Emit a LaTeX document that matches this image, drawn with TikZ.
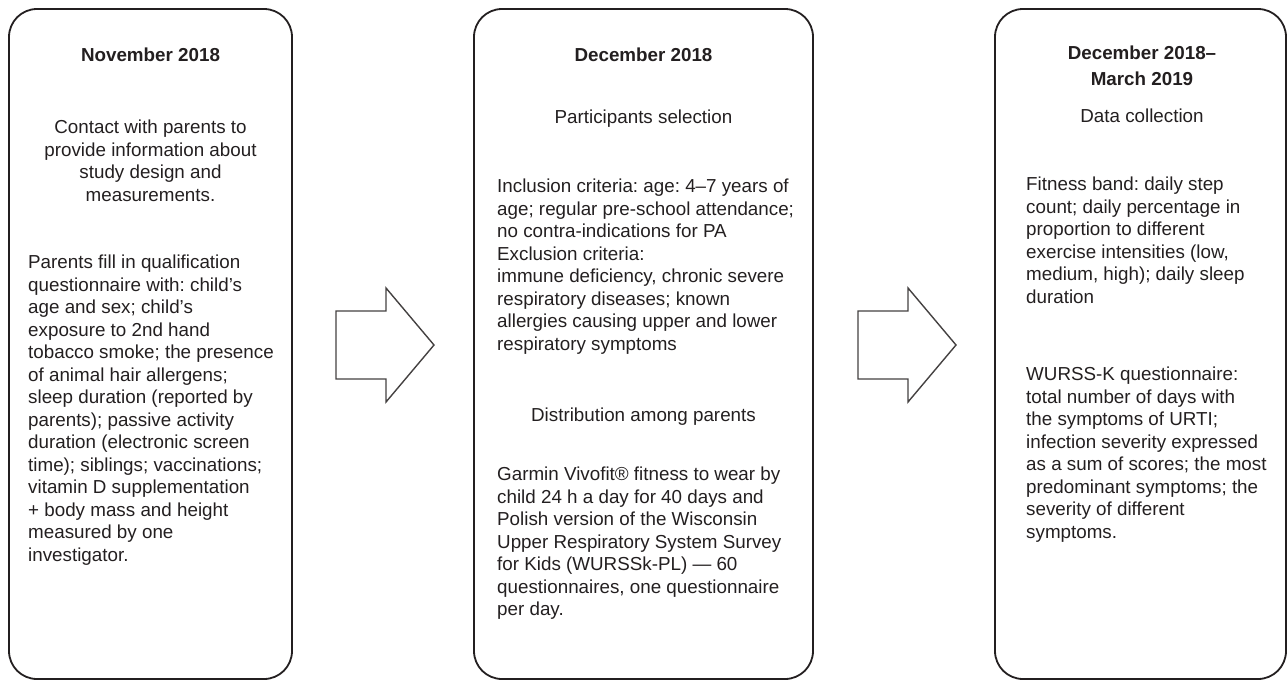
\documentclass[tikz,border=0pt]{standalone}
\usepackage{fontspec}
\setmainfont{Liberation Sans}
\usetikzlibrary{positioning}
\frenchspacing

\definecolor{ink}{HTML}{231F20}
\newcommand{\txtsize}{\fontsize{18.8pt}{22.5pt}\selectfont}

\tikzset{
  stage/.style={draw=ink, line width=1.8pt, rounded corners=28pt,
    minimum width=#1, minimum height=670pt, inner sep=0pt},
  head/.style={font=\txtsize\bfseries, text=ink, inner sep=0pt, align=center},
  ctxt/.style={font=\txtsize, text=ink, inner sep=0pt, align=center},
  ltxt/.style={font=\txtsize, text=ink, inner sep=0pt, align=left, anchor=north west},
  blockarrow/.style={draw=ink!85, line width=1.4pt, line join=miter}
}

\begin{document}
\begin{tikzpicture}[x=1pt, y=-1pt]
        \useasboundingbox (0,0) rectangle (1288,680);

        % three stages
        \node[stage=283pt] (nov) at (150.5,344) {};
        \node[stage=339pt] (dec) at (643.5,344) {};
        \node[stage=291pt] (mar) at (1140.5,344) {};

        % November 2018
        \node[head] (novT) at (150.5,55) {November 2018};
        \node[ctxt, anchor=north] (novC) at (150.5,120) {Contact with parents to\\provide information about\\study design and\\measurements.};
        \node[ltxt] (novQ) at (28,255) {Parents fill in qualification\\questionnaire with: child’s\\age and sex; child’s\\exposure to 2nd hand\\tobacco smoke; the presence\\of animal hair allergens;\\sleep duration (reported by\\parents); passive activity\\duration (electronic screen\\time); siblings; vaccinations;\\vitamin D supplementation\\+ body mass and height\\measured by one\\investigator.};

        % December 2018
        \node[head] (decT) at (643.5,55) {December 2018};
        \node[ctxt] (decS) at (643.5,119) {Participants selection};
        \node[ltxt] (decI) at (497,179) {Inclusion criteria: age: 4–7 years of\\age; regular pre-school attendance;\\no contra-indications for PA\\Exclusion criteria:\\immune deficiency, chronic severe\\respiratory diseases; known\\allergies causing upper and lower\\respiratory symptoms};
        \node[ctxt] (decD) at (643.5,417) {Distribution among parents};
        \node[ltxt] (decG) at (497,467) {Garmin Vivofit® fitness to wear by\\child 24 h a day for 40 days and\\Polish version of the Wisconsin\\Upper Respiratory System Survey\\for Kids (WURSSk-PL) — 60\\questionnaires, one questionnaire\\per day.};

        % December 2018 -- March 2019
        \node[head, anchor=north] (marT) at (1142,46) {December 2018–\\[3.5pt]March 2019};
        \node[ctxt] (marD) at (1142,116) {Data collection};
        \node[ltxt] (marF) at (1026,177) {Fitness band: daily step\\count; daily percentage in\\proportion to different\\exercise intensities (low,\\medium, high); daily sleep\\duration};
        \node[ltxt] (marW) at (1026,367) {WURSS-K questionnaire:\\total number of days with\\the symptoms of URTI;\\infection severity expressed\\as a sum of scores; the most\\predominant symptoms; the\\severity of different\\symptoms.};

        % block arrows between stages
        \coordinate (a1) at (336,345);
        \coordinate (a2) at (858,345);
        \foreach \a in {a1,a2}
          \draw[blockarrow] (\a) ++(0,-34) -- ++(50,0) -- ++(0,-23) -- ++(48,57)
            -- ++(-48,57) -- ++(0,-23) -- ++(-50,0) -- cycle;
\end{tikzpicture}
\end{document}
